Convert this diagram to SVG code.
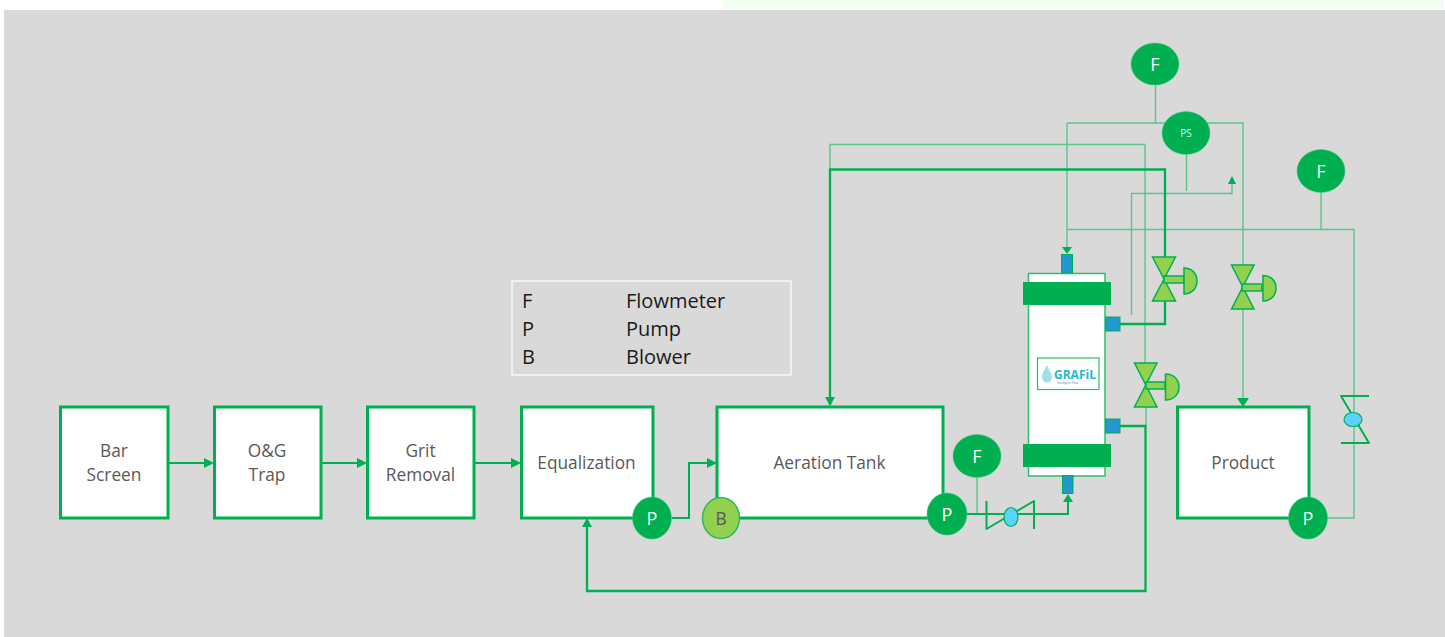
<svg xmlns="http://www.w3.org/2000/svg" width="1445" height="637" viewBox="0 0 1445 637">
<style>
text{font-family:"Open Sans","Noto Sans","Liberation Sans",sans-serif}
.box{fill:#fff;stroke:#00b050;stroke-width:3}
.lbl{font-size:17.300px;fill:#595959;text-anchor:middle}
.leg{font-size:20px;fill:#1a1a1a}
.ins{fill:#00b050;stroke:#3cc47c;stroke-width:.5}
.w{fill:#fff;font-size:18px;text-anchor:middle}
.thin{fill:none;stroke:#5cc48c;stroke-width:1.4}
.med{fill:none;stroke:#00b050;stroke-width:2}
.thick{fill:none;stroke:#00b050;stroke-width:2.3}
.blue{fill:#2299cc;stroke:#00b050;stroke-width:1}
.v{fill:#92d050;stroke:#00b050;stroke-width:1.5}
.eye{fill:#5cd2ff;stroke:#00b050;stroke-width:1.2}
.band{fill:#00b050;stroke:#00b050;stroke-width:1}
.ar{fill:#00b050}
</style>
<rect x="723" y="0" width="721" height="9" fill="#f1fff1"/>
<rect x="4" y="10" width="1441" height="627" fill="#d9d9d9"/>

<g id="connectors">
<path class="thin" d="M1155.500 85V123M1067 123H1243V265M1067 123V229M830 170V144.500H1145V363M1186.500 155V191M1131.500 315V193.500H1232V183M1321 192V229M1067 229.500H1354V518H1325M1067 229V247M1243 309V407M1146 407V426M977 478V514"/>
<path class="thick" d="M830 405V169.500H1165V257M1120 324H1165V301M1120 426H1145.500V591H587V526"/>
<path class="med" d="M168 463H207M321 463H360M474 463H514M672 518H689V463H710M967 514H1068V502"/>
<polygon class="ar" points="214,463 204,458 204,468"/>
<polygon class="ar" points="367,463 357,458 357,468"/>
<polygon class="ar" points="521,463 511,458 511,468"/>
<polygon class="ar" points="717,463 707,458 707,468"/>
<polygon class="ar" points="830,406 825,397 835,397"/>
<polygon class="ar" points="587,518 582,527 592,527"/>
<polygon class="ar" points="1243,407 1237,398 1249,398"/>
<polygon class="ar" points="1068,494 1063,502 1073,502"/>
<polygon class="ar" points="1067,254 1062,247 1072,247"/>
<polygon class="ar" points="1232,176 1228,184 1236,184"/>
</g>

<g id="bar-screen"><rect class="box" x="60.500" y="407" width="107.500" height="111"/><text class="lbl" x="114" y="457">Bar</text><text class="lbl" x="114" y="481">Screen</text></g>
<g id="og-trap"><rect class="box" x="214.500" y="407" width="106.500" height="111"/><text class="lbl" x="267" y="457">O&amp;G</text><text class="lbl" x="267" y="481">Trap</text></g>
<g id="grit-removal"><rect class="box" x="367.500" y="407" width="106.500" height="111"/><text class="lbl" x="420.500" y="457">Grit</text><text class="lbl" x="420.500" y="481">Removal</text></g>
<g id="equalization"><rect class="box" x="521.500" y="407" width="131.500" height="111"/><text class="lbl" x="586.500" y="469">Equalization</text></g>
<g id="aeration-tank"><rect class="box" x="717" y="407" width="226" height="111"/><text class="lbl" x="829.500" y="469">Aeration Tank</text></g>
<g id="product"><rect class="box" x="1177.500" y="407" width="131.500" height="111"/><text class="lbl" x="1243" y="469">Product</text></g>

<g id="legend">
<rect x="512" y="281" width="279" height="94" fill="none" stroke="#fff" stroke-width="1.200"/>
<text class="leg" x="522" y="308">F</text><text class="leg" x="626" y="308">Flowmeter</text>
<text class="leg" x="522" y="336">P</text><text class="leg" x="626" y="336">Pump</text>
<text class="leg" x="522" y="364">B</text><text class="leg" x="626" y="364">Blower</text>
</g>

<g id="pump-equalization"><ellipse class="ins" cx="652" cy="518" rx="19.500" ry="21"/><text class="w" x="652" y="525">P</text></g>
<g id="blower"><ellipse cx="721" cy="518" rx="18.500" ry="20.500" fill="#92d050" stroke="#2dba5a" stroke-width="1.500"/><text class="lbl" x="721" y="525">B</text></g>
<g id="pump-aeration"><ellipse class="ins" cx="947" cy="514" rx="20" ry="21"/><text class="w" x="947" y="521">P</text></g>
<g id="pump-product"><ellipse class="ins" cx="1308" cy="518" rx="19.500" ry="21"/><text class="w" x="1308" y="525">P</text></g>
<g id="flow-feed"><ellipse class="ins" cx="977" cy="456" rx="24" ry="21.500"/><text class="w" x="977" y="463">F</text></g>
<g id="flow-top"><ellipse class="ins" cx="1155" cy="64" rx="24" ry="21"/><text class="w" x="1155" y="71">F</text></g>
<g id="flow-right"><ellipse class="ins" cx="1321" cy="171" rx="24" ry="21.500"/><text class="w" x="1321" y="178">F</text></g>
<g id="pressure-switch"><ellipse class="ins" cx="1186" cy="133" rx="24" ry="21.500"/><text x="1186" y="137" fill="#d8f5e2" font-size="10" text-anchor="middle">PS</text></g>

<g id="membrane">
<rect x="1028.500" y="273.500" width="76.500" height="202.500" fill="#fff" stroke="#2fbf6a" stroke-width="1.500"/>
<rect class="band" x="1023.500" y="282.500" width="87" height="22"/>
<rect class="band" x="1023.500" y="444.500" width="87" height="22"/>
<rect class="blue" x="1061.500" y="254.500" width="11" height="18.500"/>
<rect class="blue" x="1062.500" y="475.500" width="10.500" height="18"/>
<rect class="blue" x="1105.500" y="317" width="14.500" height="14"/>
<rect class="blue" x="1105.500" y="419" width="14.500" height="14"/>
<rect x="1037.500" y="358" width="61.500" height="31.500" fill="#fff" stroke="#2fbf6a" stroke-width="1.200"/>
<path d="M1047 365C1044 370 1042 373 1042 377A5 5.500 0 0 0 1052 377C1052 373 1049 370 1047 365Z" fill="#9fe0ea"/>
<text x="1054" y="379" font-size="12" font-weight="700" fill="#29b6cf">GRAFiL</text>
<text x="1057" y="383.500" font-size="3" fill="#607d8b">Intelligent Flow</text>
</g>

<g id="valve-a"><polygon class="v" points="1152.500,257 1175.500,257 1152.500,301 1175.500,301"/><rect class="v" x="1164" y="276" width="20" height="7"/><path class="v" d="M1184 268C1192 268 1197 274 1197 281S1192 294 1184 294Z"/></g>
<g id="valve-b"><polygon class="v" points="1231.500,265 1254,265 1231.500,309 1254,309"/><rect class="v" x="1242" y="284" width="20" height="7"/><path class="v" d="M1263 275.500C1271 275.500 1276 281 1276 288S1271 301 1263 301Z"/></g>
<g id="valve-c"><polygon class="v" points="1134.500,363 1157,363 1134.500,407 1157,407"/><rect class="v" x="1146" y="382" width="19" height="7"/><path class="v" d="M1165.500 374C1173 374 1179 379 1179 387S1173 400 1165.500 400Z"/></g>
<g id="check-feed"><path class="med" d="M986.500 501V529L1034 501V529" stroke-linejoin="round"/><ellipse class="eye" cx="1011" cy="517" rx="7" ry="9.500"/></g>
<g id="check-product"><path class="med" d="M1369 396H1341L1369 443H1341" stroke-linejoin="round"/><ellipse class="eye" cx="1353" cy="419.500" rx="9" ry="7"/></g>
</svg>
